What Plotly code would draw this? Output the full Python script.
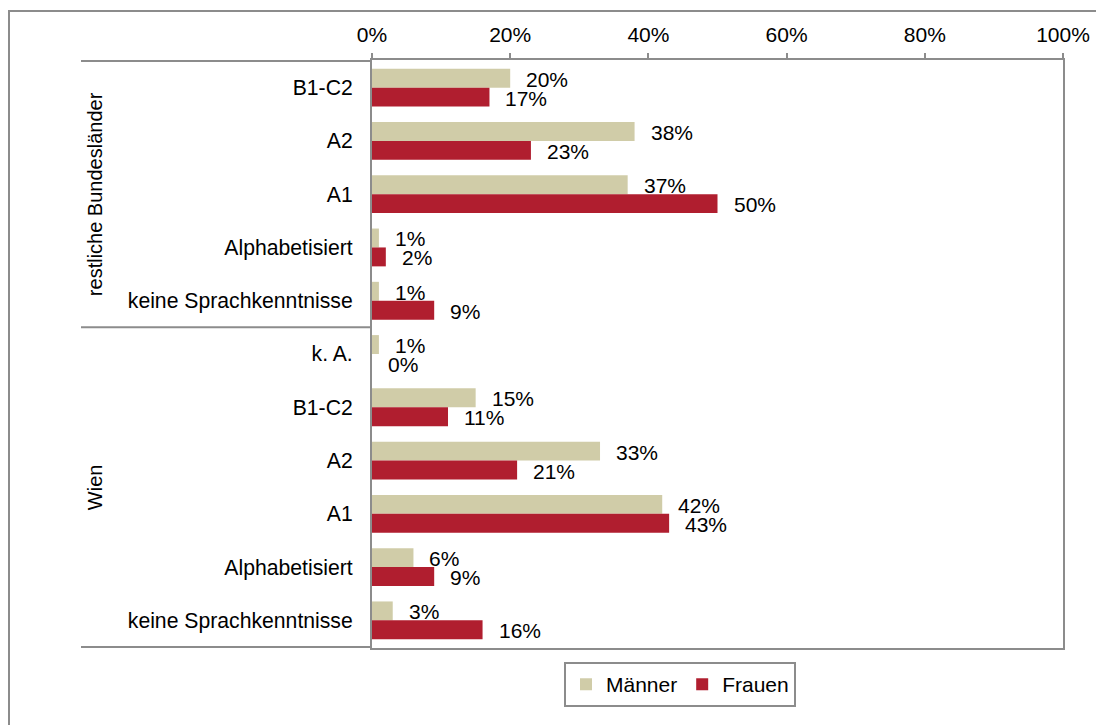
import plotly.graph_objects as go

# Sprachniveau nach Region und Geschlecht (Anteile in %)
categories = [
    "B1-C2", "A2", "A1", "Alphabetisiert", "keine Sprachkenntnisse",
    "k. A.", "B1-C2 ", "A2 ", "A1 ", "Alphabetisiert ", "keine Sprachkenntnisse ",
]
tick_labels = [
    "B1-C2", "A2", "A1", "Alphabetisiert", "keine Sprachkenntnisse",
    "k. A.", "B1-C2", "A2", "A1", "Alphabetisiert", "keine Sprachkenntnisse",
]
maenner = [20, 38, 37, 1, 1, 1, 15, 33, 42, 6, 3]
frauen = [17, 23, 50, 2, 9, 0, 11, 21, 43, 9, 16]
groups = ["restliche Bundesländer", "Wien"]
group_sizes = [5, 6]

FONT = "Liberation Sans, Arial, sans-serif"
GRAY = "#8c8c8c"
C_M = "#D0CCA8"
C_F = "#B01E2F"

fig = go.Figure()
fig.add_trace(go.Bar(
    name="Männer", y=categories, x=[v / 100 for v in maenner],
    orientation="h", marker=dict(color=C_M, line=dict(width=0)),
))
fig.add_trace(go.Bar(
    name="Frauen", y=categories, x=[v / 100 for v in frauen],
    orientation="h", marker=dict(color=C_F, line=dict(width=0)),
))

annotations = []
# value labels beside each bar
for cat, m, f in zip(categories, maenner, frauen):
    annotations.append(dict(
        x=m / 100, y=cat, xref="x", yref="y", text=f"{m}%",
        showarrow=False, xanchor="left", yanchor="middle",
        xshift=14, yshift=8.5, font=dict(size=21, color="black", family=FONT),
    ))
    annotations.append(dict(
        x=f / 100, y=cat, xref="x", yref="y", text=f"{f}%",
        showarrow=False, xanchor="left", yanchor="middle",
        xshift=14, yshift=-10.5, font=dict(size=21, color="black", family=FONT),
    ))

# rotated group labels on the left
start = 0
for g, n in zip(groups, group_sizes):
    annotations.append(dict(
        x=-0.4009, xref="paper", y=start + (n - 1) / 2, yref="y",
        text=g, textangle=-90, showarrow=False,
        xanchor="center", yanchor="middle",
        font=dict(size=20, color="black", family=FONT),
    ))
    start += n

shapes = []
x_left = (81 - 372) / 691
# horizontal rules of the category axis
for yv in [-0.5, group_sizes[0] - 0.5, len(categories) - 0.5]:
    shapes.append(dict(
        type="line", xref="paper", yref="y", x0=x_left, x1=0, y0=yv, y1=yv,
        line=dict(color=GRAY, width=2),
    ))
# outer frame
shapes.append(dict(
    type="rect", xref="paper", yref="paper",
    x0=(9 - 372) / 691, x1=1.06, y0=-0.2, y1=1 + (60 - 11) / 588,
    line=dict(color=GRAY, width=2), fillcolor="rgba(0,0,0,0)", layer="below",
))

fig.update_layout(
    width=1096, height=725,
    margin=dict(l=372, r=33, t=60, b=77, autoexpand=False),
    paper_bgcolor="white", plot_bgcolor="white",
    barmode="group", bargap=0.29, bargroupgap=0,
    font=dict(family=FONT, size=21, color="black"),
    xaxis=dict(
        side="top", range=[0, 1], dtick=0.2, tickformat=".0%",
        showgrid=False, zeroline=False,
        showline=True, mirror=True, linecolor=GRAY, linewidth=2,
        ticks="outside", ticklen=5, tickcolor=GRAY, tickwidth=2,
        ticklabelstandoff=3,
        tickfont=dict(size=21, family=FONT, color="black"),
    ),
    yaxis=dict(
        autorange="reversed", tickmode="array",
        tickvals=categories, ticktext=tick_labels,
        showgrid=False, zeroline=False,
        showline=True, mirror=True, linecolor=GRAY, linewidth=2,
        ticks="", ticklabelstandoff=13,
        tickfont=dict(size=21.2, family=FONT, color="black"),
    ),
    legend=dict(
        orientation="h", x=0.4457, xanchor="center", y=-0.024, yanchor="top",
        bordercolor=GRAY, borderwidth=2,
        font=dict(size=21, family=FONT, color="black"),
        itemwidth=30, traceorder="normal",
    ),
    annotations=annotations,
    shapes=shapes,
)

fig.write_html("out.html")
